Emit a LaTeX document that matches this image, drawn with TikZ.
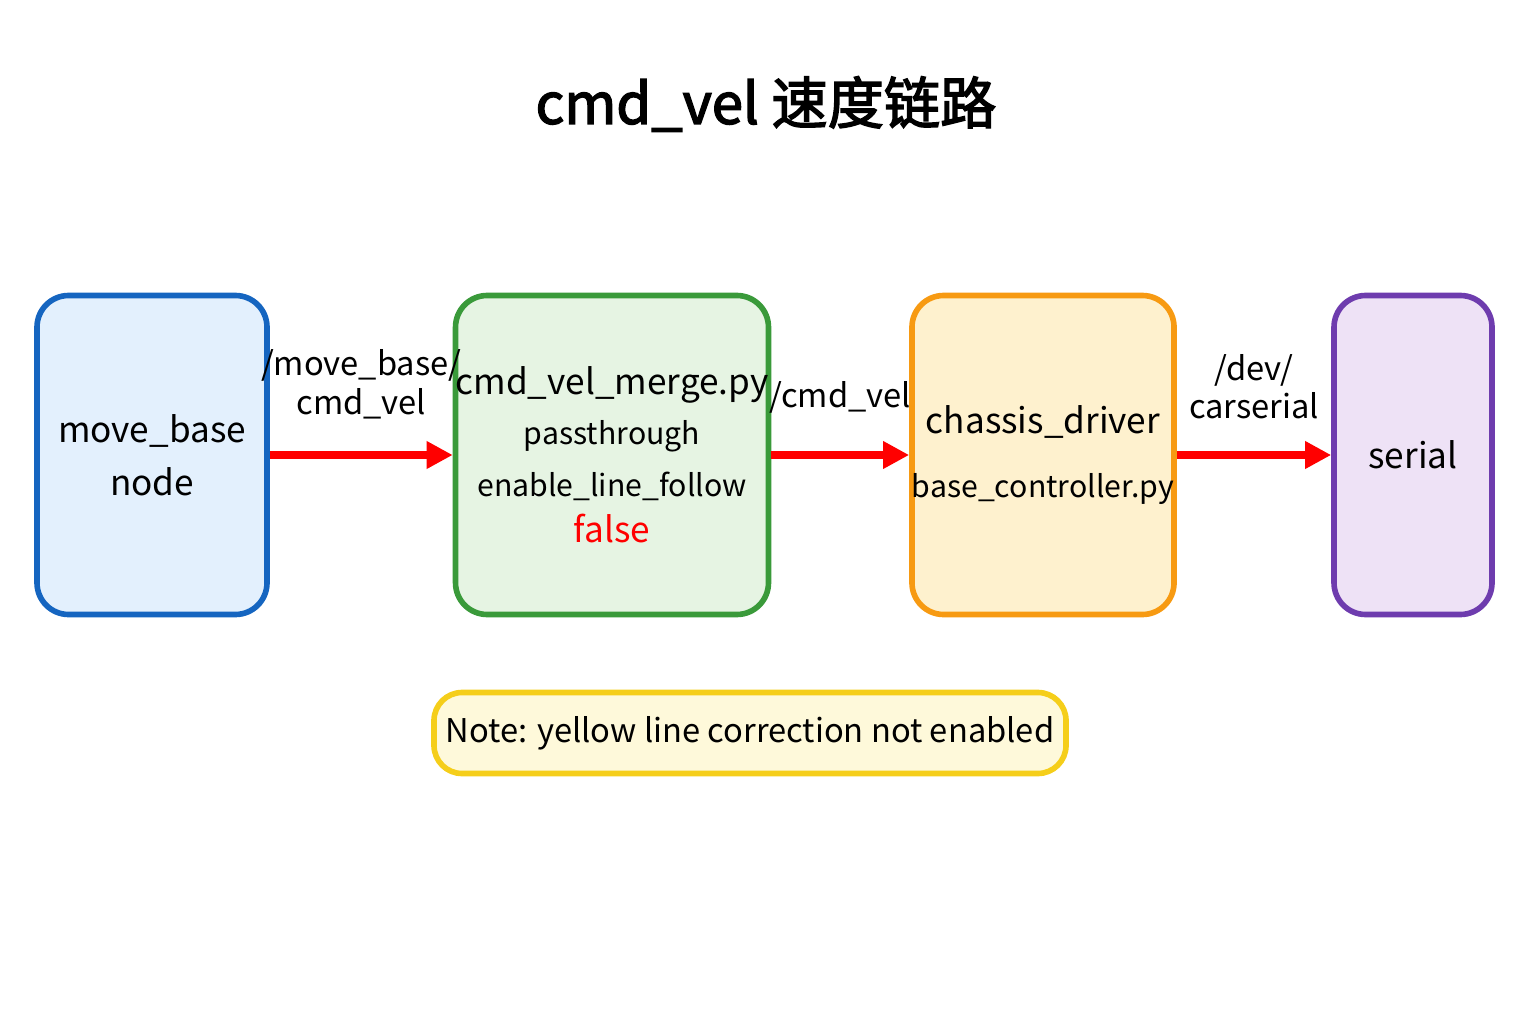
\documentclass[tikz,border=0pt]{standalone}
\usepackage{fontspec}
\setmainfont{Noto Sans CJK SC}
\newfontfamily\cjk{Noto Sans CJK SC}[AutoFakeBold=2.5]
\usetikzlibrary{positioning,arrows.meta}
\definecolor{blueLine}{HTML}{1565C0}
\definecolor{blueFill}{HTML}{E3F0FD}
\definecolor{greenLine}{HTML}{3A9A3A}
\definecolor{greenFill}{HTML}{E6F4E3}
\definecolor{orangeLine}{HTML}{F79A12}
\definecolor{orangeFill}{HTML}{FEF1CE}
\definecolor{purpleLine}{HTML}{6E3CAE}
\definecolor{purpleFill}{HTML}{EEE2F6}
\definecolor{noteLine}{HTML}{F5CE1A}
\definecolor{noteFill}{HTML}{FEF9DA}
\tikzset{
  stage/.style={draw, line width=1.6pt, rounded corners=9pt, minimum height=3.19cm,
    inner xsep=0pt, align=center, font=\fontsize{10}{15}\selectfont},
  topic/.style={draw=red, line width=2.2pt, -{Triangle[length=0.26cm,width=0.26cm]}},
  topicLabel/.style={align=center, inner sep=0pt, font=\fontsize{9.3}{11}\selectfont}
}
\begin{document}
\begin{tikzpicture}
\useasboundingbox (0,0) rectangle (15.36,10.24);
\node (title) at (7.66,9.2) {\cjk\bfseries\fontsize{16}{20}\selectfont cmd\_vel 速度链路};
% pipeline stages
\node[stage, draw=blueLine, fill=blueFill, minimum width=2.30cm] (moveBase) at (1.52,5.69)
  {move\_base\\node};
\node[stage, draw=greenLine, fill=greenFill, minimum width=2.76cm] (merge) at (6.12,5.69)
  {cmd\_vel\_merge.py\\[-1pt]{\fontsize{8.6}{12}\selectfont passthrough}\\
   {\fontsize{8.6}{12}\selectfont enable\_line\_follow}\\[-2pt]\textcolor{red}{false}};
\node[stage, draw=orangeLine, fill=orangeFill, minimum width=2.37cm] (chassis) at (10.43,5.69)
  {chassis\_driver\\[3pt]{\fontsize{8.6}{12}\selectfont base\_controller.py}};
\node[stage, draw=purpleLine, fill=purpleFill, minimum width=1.58cm] (serial) at (14.13,5.69)
  {serial};
% topics
\draw[topic] (moveBase.east) -- (merge.west)
  node[midway, above=0.32cm, topicLabel] {/move\_base/\\cmd\_vel};
\draw[topic] (merge.east) -- (chassis.west)
  node[midway, above=0.38cm, topicLabel] {/cmd\_vel};
\draw[topic] (chassis.east) -- (serial.west)
  node[midway, above=0.32cm, topicLabel] {/dev/\\carserial};
% note
\node[draw=noteLine, fill=noteFill, line width=1.6pt, rounded corners=8pt,
  minimum width=5.63cm, minimum height=0.81cm, font=\fontsize{9.3}{11}\selectfont]
  (note) at (7.5,2.91) {Note: yellow line correction not enabled};
\end{tikzpicture}
\end{document}
